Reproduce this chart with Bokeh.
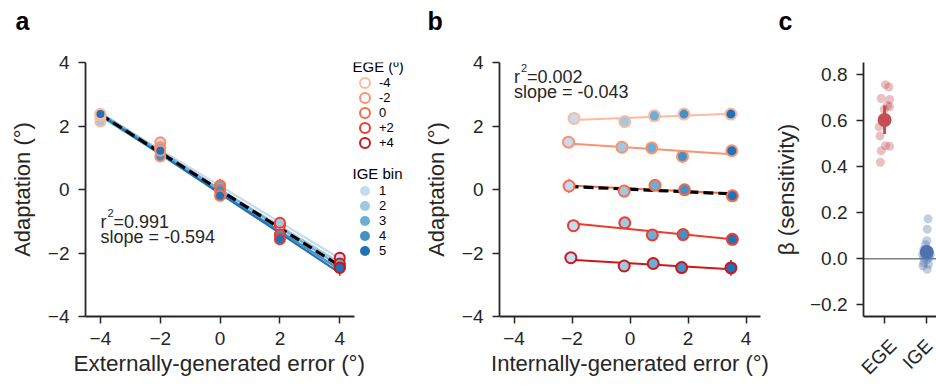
import numpy as np
from bokeh.plotting import figure
from bokeh.models import (Legend, LegendItem, Label, Span, FixedTicker, Title,
                          CustomJSTickFormatter, ColumnDataSource)
from bokeh.layouts import row
from bokeh.embed import file_html
from bokeh.resources import INLINE

# ---------------- data ----------------
EGE_LEVELS = [-4, -2, 0, 2, 4]
EGE_LABELS = ["-4", "-2", "0", "+2", "+4"]
IGE_BIN_LABELS = ["1", "2", "3", "4", "5"]

# internally-generated error (bin centre) for each EGE row, bins 1..5
IGE_X = [
    [-1.93, -0.18, 0.84, 1.86, 3.48],
    [-2.12, -0.28, 0.75, 1.81, 3.51],
    [-2.10, -0.20, 0.86, 1.88, 3.53],
    [-1.95, -0.18, 0.77, 1.83, 3.53],
    [-2.04, -0.20, 0.80, 1.78, 3.48],
]
# adaptation for each EGE row, bins 1..5
ADAPT = [
    [2.24, 2.14, 2.32, 2.375, 2.375],
    [1.49, 1.33, 1.31, 1.04, 1.22],
    [0.11, -0.05, 0.13, -0.01, -0.20],
    [-1.14, -1.05, -1.43, -1.42, -1.57],
    [-2.15, -2.41, -2.33, -2.46, -2.47],
]
SEM = [
    [0.17, 0.06, 0.05, 0.05, 0.18],
    [0.06, 0.07, 0.06, 0.06, 0.06],
    [0.23, 0.06, 0.07, 0.06, 0.07],
    [0.06, 0.09, 0.06, 0.06, 0.08],
    [0.06, 0.06, 0.06, 0.07, 0.25],
]
STATS_A = ("0.991", "-0.594")
STATS_B = ("0.002", "-0.043")

GROUPS = ["EGE", "IGE"]
BETA_EGE = [0.754, 0.744, 0.694, 0.690, 0.664, 0.658, 0.647, 0.571, 0.532,
            0.490, 0.487, 0.468, 0.418]
JIT_EGE = [0.02, 0.10, -0.08, 0.12, 0.07, 0.12, -0.01, -0.13, -0.11,
           0.02, 0.12, -0.08, -0.10]
BETA_IGE = [0.173, 0.128, 0.078, 0.061, 0.040, 0.033, 0.018, 0.018, 0.004,
            -0.003, -0.017, -0.024, -0.046, -0.030, 0.005]
JIT_IGE = [0.03, 0.01, 0.00, -0.03, -0.07, 0.04, -0.10, 0.08, -0.07,
           0.01, -0.07, 0.04, 0.01, -0.09, 0.06]

# ---------------- style ----------------
FONT = "Liberation Sans"
INK = "#262626"
REDS = ["#fcbba1", "#fc9272", "#fb6a4a", "#ef3b2c", "#cb181d"]
BLUES = ["#c6dbef", "#9ecae1", "#6baed6", "#4292c6", "#2171b5"]
C_EGE = "#C44E52"
C_IGE = "#4C72B0"
H = 388
FRAME_TOP, FRAME_BOTTOM = 62, 319

INT_FMT = "return tick < 0 ? '\u2212' + Math.abs(tick).toFixed(0) : tick.toFixed(0);"
DEC_FMT = "return tick < -1e-9 ? '\u2212' + Math.abs(tick).toFixed(1) : Math.abs(tick).toFixed(1);"


def mkfig(width, xr, yr, left, right, letter, offset):
    p = figure(width=width, height=H, x_range=xr, y_range=yr,
               output_backend="svg", toolbar_location=None,
               min_border_left=left, min_border_right=right,
               min_border_top=FRAME_TOP, min_border_bottom=H - FRAME_BOTTOM)
    p.outline_line_color = None
    p.grid.visible = False
    for ax in p.axis:
        ax.axis_line_width = 1.8
        ax.axis_line_color = INK
        ax.major_tick_line_width = 1.5
        ax.major_tick_line_color = INK
        ax.major_tick_out = 7
        ax.major_tick_in = 0
        ax.minor_tick_line_color = None
        ax.major_label_text_font = FONT
        ax.major_label_text_font_size = "19px"
        ax.major_label_text_color = INK
        ax.axis_label_text_font = FONT
        ax.axis_label_text_font_size = "22px"
        ax.axis_label_text_font_style = "normal"
        ax.axis_label_text_color = INK
    p.xaxis.major_label_standoff = 8
    p.xaxis.axis_label_standoff = 3
    p.yaxis.major_label_standoff = 9
    p.yaxis.axis_label_standoff = 10
    # panel letter: a thin spacer title keeps the letter near the top edge
    p.add_layout(Title(text=" ", text_font_size="2px", standoff=24), "above")
    p.add_layout(Title(text=letter, align="left", offset=offset, standoff=0,
                       text_font=FONT, text_font_size="25px",
                       text_font_style="bold", text_color="black"), "above")
    return p


def stats(p, x, y, r2, slope):
    kw = dict(text_font=FONT, text_color=INK, text_baseline="alphabetic")
    p.add_layout(Label(x=x, y=y, text="r", text_font_size="18px", **kw))
    p.add_layout(Label(x=x, y=y, x_offset=7, y_offset=9, text="2",
                       text_font_size="11px", **kw))
    p.add_layout(Label(x=x, y=y, x_offset=13, text="=" + r2,
                       text_font_size="18px", **kw))
    p.add_layout(Label(x=x, y=y, y_offset=-15, text="slope = " + slope,
                       text_font_size="18px", **kw))


A = np.array(ADAPT)
XB = np.array(IGE_X)
XE = np.array(EGE_LEVELS, dtype=float)

pts = dict(x=[], y=[], lo=[], hi=[], xb=[], fill=[], edge=[])
for j in range(5):
    for k in range(5):
        pts["x"].append(EGE_LEVELS[k])
        pts["xb"].append(IGE_X[k][j])
        pts["y"].append(ADAPT[k][j])
        pts["lo"].append(ADAPT[k][j] - SEM[k][j])
        pts["hi"].append(ADAPT[k][j] + SEM[k][j])
        pts["fill"].append(BLUES[j])
        pts["edge"].append(REDS[k])
src = ColumnDataSource(pts)

# ---------------- panel a (frame also hosts the legend on its right) ----------------
pa = mkfig(420, (-4.5, 6.7), (-4, 4), 85, 0, "a", -70)
pa.xaxis.bounds = (-4.5, 4.5)
pa.xaxis.ticker = FixedTicker(ticks=[-4, -2, 0, 2, 4])
pa.yaxis.ticker = FixedTicker(ticks=[-4, -2, 0, 2, 4])
pa.xaxis.formatter = CustomJSTickFormatter(code=INT_FMT)
pa.yaxis.formatter = CustomJSTickFormatter(code=INT_FMT)
pa.yaxis.axis_label = "Adaptation (°)"
pa.add_layout(Title(text="Externally-generated error (°)", align="left",
                    offset=-12, standoff=2, text_font=FONT,
                    text_font_size="22.5px", text_font_style="normal",
                    text_color=INK), "below")

xx = np.array([XE.min(), XE.max()])
for j in range(5):
    m, b = np.polyfit(XE, A[:, j], 1)
    pa.line(xx, m * xx + b, line_color=BLUES[j], line_width=2.2)
m, b = np.polyfit(np.repeat(XE, 5), A.ravel(), 1)
pa.line(xx, m * xx + b, line_color="black", line_width=3.2, line_dash="10 5")
pa.segment(x0="x", y0="lo", x1="x", y1="hi", line_color="edge", line_width=1.5, source=src)
pa.scatter(x="x", y="y", size=10, fill_color="fill", line_color="edge",
           line_width=2, source=src)
stats(pa, -4.0, -1.01, *STATS_A)

# legends: one small legend per row so the rows can sit closely together
ROW_PITCH = 15


def legend_row(renderer, label, center_y):
    lg = Legend(items=[LegendItem(label=label, renderers=[renderer])],
                location=(267, FRAME_BOTTOM - center_y - 12.5),
                glyph_width=25, glyph_height=25, label_height=13,
                spacing=0, label_standoff=2, padding=0, margin=0,
                border_line_color=None, background_fill_alpha=0,
                label_text_font=FONT, label_text_font_size="13px",
                label_text_color="black")
    pa.add_layout(lg, "center")


for k in range(5):
    r = pa.scatter([np.nan], [np.nan], size=10, fill_color="white",
                   line_color=REDS[k], line_width=2)
    legend_row(r, EGE_LABELS[k], 85.5 + ROW_PITCH * k)
for j in range(5):
    r = pa.scatter([np.nan], [np.nan], size=10, fill_color=BLUES[j],
                   line_color=None)
    legend_row(r, IGE_BIN_LABELS[j], 193 + ROW_PITCH * j)
for txt, cy in [("EGE (º)", 69), ("IGE bin", 176)]:
    pa.add_layout(Label(x=267, y=FRAME_BOTTOM - cy, x_units="screen",
                        y_units="screen", text=txt, text_font=FONT,
                        text_font_size="15px", text_color="black",
                        text_baseline="middle"))

# ---------------- panel b ----------------
pb = mkfig(350, (-4.5, 4.5), (-4, 4), 72, 10, "b", -72)
pb.xaxis.ticker = FixedTicker(ticks=[-4, -2, 0, 2, 4])
pb.yaxis.ticker = FixedTicker(ticks=[-4, -2, 0, 2, 4])
pb.xaxis.formatter = CustomJSTickFormatter(code=INT_FMT)
pb.yaxis.formatter = CustomJSTickFormatter(code=INT_FMT)
pb.xaxis.axis_label = "Internally-generated error (°)"
pb.yaxis.axis_label = "Adaptation (°)"

for k in range(5):
    xr = np.array([XB[k].min(), XB[k].max()])
    m, b = np.polyfit(XB[k], A[k], 1)
    pb.line(xr, m * xr + b, line_color=REDS[k], line_width=2)
xr = np.array([XB.min(), XB.max()])
m, b = np.polyfit(XB.ravel(), A.ravel(), 1)
pb.line(xr, m * xr + b, line_color="black", line_width=3.2, line_dash="10 5")
pb.segment(x0="xb", y0="lo", x1="xb", y1="hi", line_color="edge", line_width=1.5, source=src)
pb.scatter(x="xb", y="y", size=11, fill_color="fill", line_color="edge",
           line_width=2, source=src)
stats(pb, -4.0, 3.54, *STATS_B)

# ---------------- panel c ----------------
pc = mkfig(166, (-0.5, 1.23), (-0.25, 0.85), 88, 0, "c", -85)
# visible ticks sit on the groups; the rotated names are centred beneath them
pc.xaxis.ticker = FixedTicker(ticks=[0.2, 1.2], minor_ticks=[0, 1])
pc.xaxis.major_tick_line_color = None
pc.xaxis.minor_tick_line_color = INK
pc.xaxis.minor_tick_line_width = 1.5
pc.xaxis.minor_tick_out = 7
pc.xaxis.minor_tick_in = 0
pc.xaxis.formatter = CustomJSTickFormatter(
    code="return ['EGE','IGE'][Math.round(tick - 0.2)];")
pc.xaxis.major_label_orientation = np.pi / 4
pc.xaxis.major_label_standoff = 19
pc.yaxis.ticker = FixedTicker(ticks=[-0.2, 0.0, 0.2, 0.4, 0.6, 0.8])
pc.yaxis.formatter = CustomJSTickFormatter(code=DEC_FMT)
pc.yaxis.axis_label = "β (sensitivity)"
pc.yaxis.axis_label_text_font_size = "22.5px"
pc.yaxis.axis_label_standoff = 8
pc.add_layout(Span(location=0, dimension="width", line_color="#7f7f7f",
                   line_width=1.5, level="underlay"))

for g, (vals, jit, col) in enumerate([(BETA_EGE, JIT_EGE, C_EGE),
                                      (BETA_IGE, JIT_IGE, C_IGE)]):
    v = np.array(vals)
    pc.scatter(g + np.array(jit), v, size=9, fill_color=col, fill_alpha=0.35,
               line_color=None)
    mu = v.mean()
    ci = 1.96 * v.std(ddof=1) / np.sqrt(len(v))
    pc.segment([g], [mu - ci], [g], [mu + ci], line_color=col, line_width=3)
    pc.scatter([g], [mu], size=14, fill_color=col, line_color=None)

layout = row(pa, pb, pc)
open("out.html", "w").write(file_html(layout, INLINE))
